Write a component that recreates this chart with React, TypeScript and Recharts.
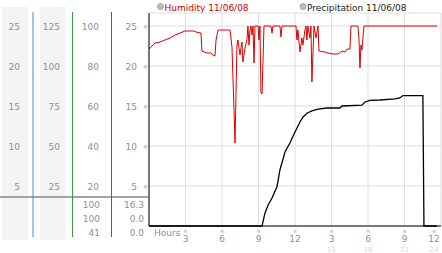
import { CartesianGrid, Line, LineChart, XAxis, YAxis } from "recharts";

const hourTicks = [0, 3, 6, 9, 12, 15, 18, 21, 24];
const scaleTicks = [5, 10, 15, 20, 25];

// left side scale columns (same order as scaleTicks)
const colA = ["5", "10", "15", "20", "25"];
const colB = ["25", "50", "75", "100", "125"];
const colC = ["20", "40", "60", "80", "100"];
const colD = ["5", "10", "15", "20", "25"];

// current / max / min rows under the scales
const humidityStats = ["100", "100", "41"];
const precipStats = ["16.3", "0.0", "0.0"];

const seriesNames = ["Humidity 11/06/08", "Precipitation 11/06/08"];

const humidityTimes = [
  0, 0.49, 0.9, 1.31, 1.73, 2.14, 2.55, 2.96, 3.7, 3.86, 4.27, 4.35, 4.77, 5.09, 5.26, 5.42,
  5.51, 5.67, 6.66, 6.82, 7.07, 7.23, 7.31, 7.48, 7.64, 7.72, 7.89, 8.05, 8.13, 8.22, 8.3,
  8.38, 8.46, 8.55, 8.63, 8.71, 8.96, 9.04, 9.12, 9.2, 9.29, 9.37, 9.45, 10.02, 10.11, 10.19,
  10.76, 10.85, 10.93, 12.08, 12.16, 12.24, 12.41, 12.57, 12.65, 12.82, 12.9, 12.98, 13.06,
  13.23, 13.31, 13.39, 13.56, 13.72, 13.89, 13.97, 14.46, 14.71, 15.12, 15.53, 15.86, 16.11,
  16.27, 16.52, 16.6, 17.17, 17.26, 17.34, 17.42, 17.5, 17.67, 23.66,
];
const humidityValues = [
  88.5, 91.5, 92, 93, 94, 95.5, 96.5, 97.5, 97.5, 97, 96.5, 87.5, 86.5, 86.5, 85.5, 85,
  93, 98, 98, 89.5, 41.5, 90.5, 93, 85.5, 92, 82, 89, 93, 100, 90.5, 98,
  100, 95.5, 100, 81.5, 100, 100, 93, 100, 67, 66, 83, 100, 100, 96.5, 100,
  100, 94.5, 100, 100, 93, 98, 87, 94, 90.5, 98, 100, 93, 100,
  94, 100, 72, 100, 94, 100, 87.5, 87, 86.5, 86, 86, 87.5, 87,
  88.5, 88.5, 100, 100, 93, 79, 90.5, 88, 100, 100,
];

const precipTimes = [
  0, 9.29, 9.53, 9.78, 10.11, 10.52, 10.76, 11.18, 11.59, 12.0, 12.41, 12.65, 12.98, 13.39,
  13.89, 14.63, 15.69, 15.86, 17.5, 17.75, 18.16, 18.98, 20.21, 20.62, 20.87, 22.51, 22.6, 23.66,
];
const precipValues = [
  0, 0, 1.6, 2.6, 3.5, 4.9, 7.0, 9.25, 10.4, 11.75, 13.0, 13.6, 14.1, 14.4,
  14.6, 14.75, 14.75, 15.0, 15.1, 15.5, 15.7, 15.75, 15.9, 16.0, 16.3, 16.3, 0, 0,
];

const humidityData = humidityTimes.map((t, i) => ({ t, h: humidityValues[i] }));
const precipData = precipTimes.map((t, i) => ({ t, p: precipValues[i] }));

const FONT = "DejaVu Sans, Verdana, sans-serif";
const LABEL = "#8f8f8f";

function ScaleTick(props: any) {
  const { y, payload } = props;
  const i = scaleTicks.indexOf(payload.value);
  const by = y + 3.5;
  return (
    <g fontFamily={FONT} fontSize={9} fill={LABEL}>
      <text x={20} y={by} textAnchor="end">{colA[i]}</text>
      <text x={60} y={by} textAnchor="end">{colB[i]}</text>
      <text x={99} y={by} textAnchor="end">{colC[i]}</text>
      <text x={137} y={by} textAnchor="end">{colD[i]}</text>
      <text x={145.5} y={y + 2.5} fontSize={6} textAnchor="middle" fill="#aaa">※</text>
    </g>
  );
}

function HourTick(props: any) {
  const { x, y, payload } = props;
  const v = payload.value;
  if (v === 0) {
    return (
      <text x={x + 5} y={y + 10} fontFamily={FONT} fontSize={9} fill={LABEL}>
        Hours
      </text>
    );
  }
  const hour = v > 12 ? v - 12 : v;
  const lx = v === 24 ? x - 7 : x;
  return (
    <g fontFamily={FONT} textAnchor="middle">
      <text x={lx} y={y + 7} fontSize={5} fill="#aaa">※</text>
      <text x={lx} y={y + 16} fontSize={9} fill={LABEL}>{hour}</text>
      {v > 12 && (
        <text x={lx} y={y + 26} fontSize={7} fill="#d8d8d8">{v}</text>
      )}
    </g>
  );
}

export default function App() {
  return (
    <div
      style={{
        position: "absolute",
        left: 0,
        top: 0,
        width: 442,
        height: 253,
        background: "#fff",
        overflow: "hidden",
        fontFamily: FONT,
      }}
    >
      <svg width={442} height={253} style={{ position: "absolute", left: 0, top: 0 }}>
        <rect x={2} y={7} width={26} height={233} fill="#f4f4f4" />
        <rect x={40} y={7} width={26} height={233} fill="#f4f4f4" />
        <line x1={0} x2={149} y1={197} y2={197} stroke="#a3a3a3" strokeWidth={2} />
        <line x1={33} x2={33} y1={12} y2={237} stroke="#3399cc" strokeWidth={1} />
        <line x1={72.5} x2={72.5} y1={12} y2={237} stroke="#33a633" strokeWidth={1} />
        <line x1={111.5} x2={111.5} y1={12} y2={237} stroke="#cc3333" strokeWidth={1} />
        <g fontFamily={FONT} fontSize={9} fill={LABEL} textAnchor="end">
          {humidityStats.map((s, i) => (
            <text key={"h" + i} x={100} y={207.5 + i * 14}>{s}</text>
          ))}
          {precipStats.map((s, i) => (
            <text key={"p" + i} x={144} y={207.5 + i * 14}>{s}</text>
          ))}
        </g>
        <g fontFamily={FONT} fontSize={9}>
          <circle cx={160.5} cy={6.5} r={3} fill="#bdbdbd" stroke="#999" strokeWidth={0.8} />
          <text x={164.5} y={10.5} fill="#cc0000">{seriesNames[0]}</text>
          <circle cx={303} cy={6.5} r={3} fill="#bdbdbd" stroke="#999" strokeWidth={0.8} />
          <text x={307} y={10.5} fill="#222">{seriesNames[1]}</text>
        </g>
      </svg>
      <div style={{ position: "absolute", left: 0, top: 0 }}>
        <LineChart width={442} height={253} margin={{ top: 13, right: 1, left: 0, bottom: 0 }}>
          <CartesianGrid yAxisId="p" stroke="#dedede" />
          <XAxis
            type="number"
            dataKey="t"
            domain={[0, 24]}
            ticks={hourTicks}
            interval={0}
            height={27}
            tickSize={0}
            tickMargin={0}
            tickLine={false}
            axisLine={{ stroke: "#000" }}
            tick={<HourTick />}
          />
          <YAxis
            yAxisId="p"
            type="number"
            domain={[0, 26.625]}
            ticks={scaleTicks}
            interval={0}
            width={149}
            tickSize={0}
            tickMargin={0}
            tickLine={false}
            axisLine={{ stroke: "#000" }}
            tick={<ScaleTick />}
          />
          <YAxis
            yAxisId="h"
            orientation="right"
            type="number"
            domain={[0, 106.5]}
            width={0}
            axisLine={false}
            tickLine={false}
            tick={false}
          />
          <Line
            yAxisId="h"
            data={humidityData}
            dataKey="h"
            name={seriesNames[0]}
            type="linear"
            stroke="#dd0000"
            strokeWidth={1}
            dot={false}
            isAnimationActive={false}
          />
          <Line
            yAxisId="p"
            data={precipData}
            dataKey="p"
            name={seriesNames[1]}
            type="linear"
            stroke="#000"
            strokeWidth={1.3}
            dot={false}
            isAnimationActive={false}
          />
        </LineChart>
      </div>
    </div>
  );
}
